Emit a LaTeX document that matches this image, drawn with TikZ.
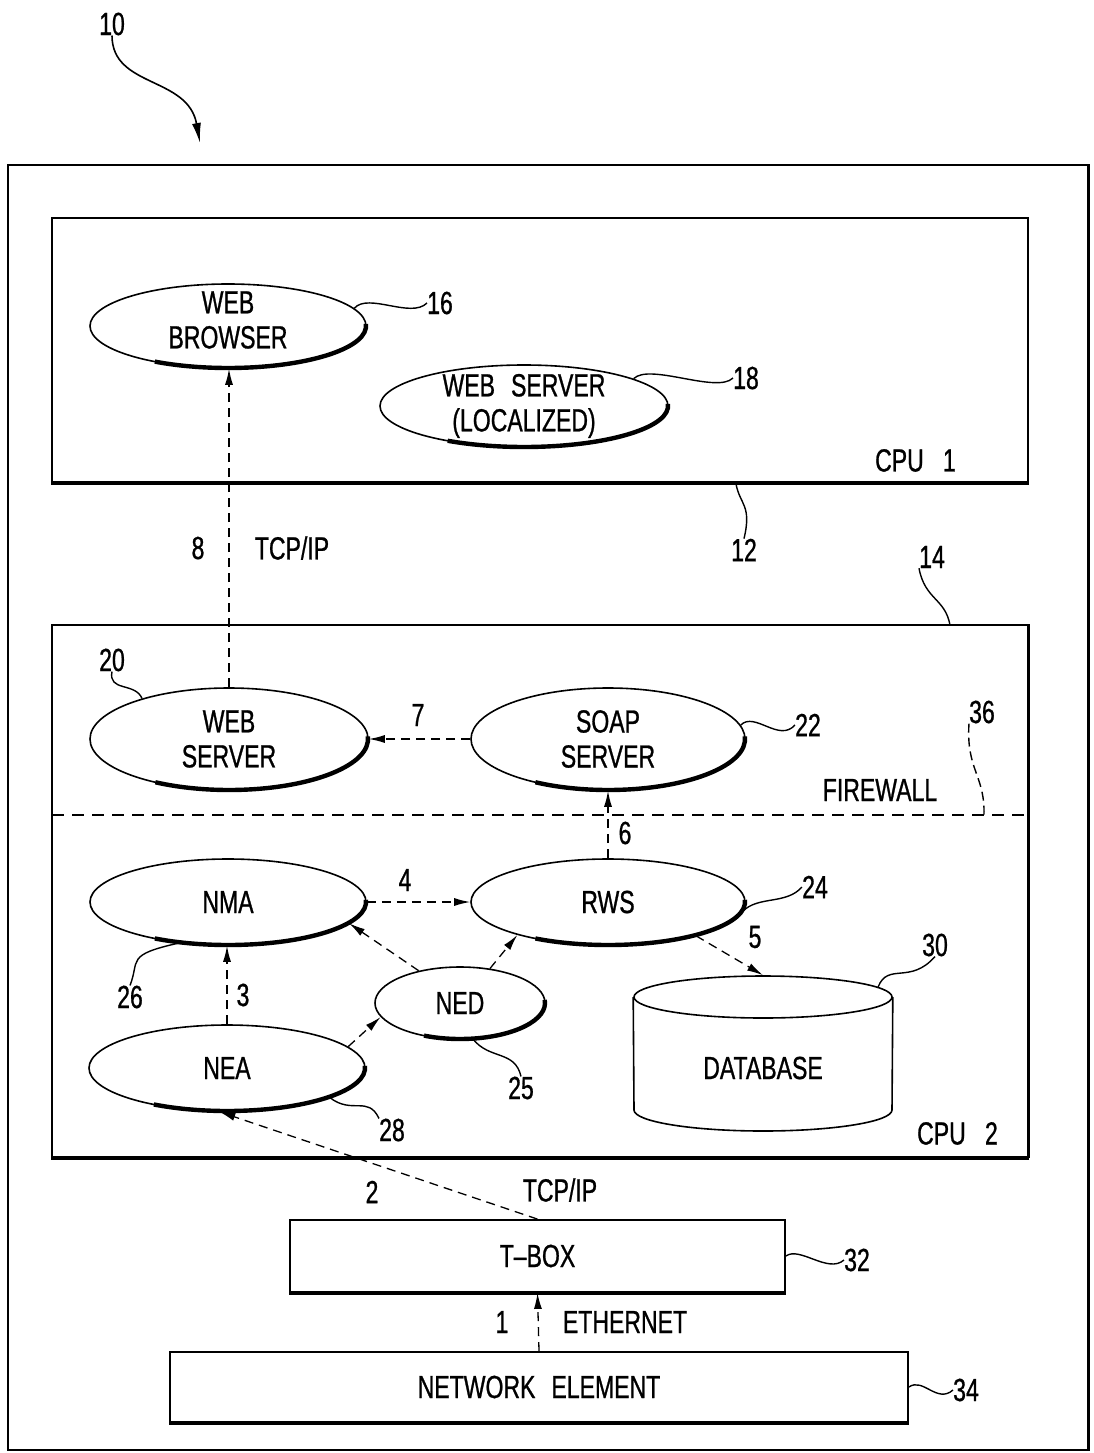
\documentclass[tikz,border=0pt]{standalone}
\usepackage{fontspec}
\setmainfont[FakeStretch=0.72,FakeBold=0.8]{Liberation Sans}
\usetikzlibrary{arrows.meta,shapes.geometric}
\begin{document}
\begin{tikzpicture}[x=1pt,y=-1pt,
  oval/.style={ellipse, draw, line width=1.6pt, inner sep=0pt},
  heavy/.style={line width=4.4pt},
  box/.style={draw, line width=1.8pt, inner sep=0pt},
  lbl/.style={font=\fontsize{32}{35}\selectfont, align=center, inner sep=0pt},
  flow/.style={line width=1.3pt, dash pattern=on 9pt off 6pt, -{Latex[length=16pt,width=8pt]}},
  lead/.style={line width=1.4pt},
  txt/.style={lbl}]
\useasboundingbox (0,0) rectangle (1094,1453);

% outer system box
\node[box, minimum width=1080, minimum height=1285] (sys) at (548,807.5) {};
\draw[line width=3pt] (sys.north east) -- (sys.south east);
\node[txt] (l10) at (112,24) {10};
\coordinate (sysin) at (200,143);
\draw[line width=1.6pt, -{Latex[length=20pt,width=9pt]}] (l10.south) .. controls (112,88) and (188,76) .. (sysin);

% CPU 1
\node[box, minimum width=976, minimum height=264] (cpu1) at (540,350) {};
\draw[line width=4pt] (cpu1.south west) -- (cpu1.south east);
\node[txt, anchor=south east] (cpu1l) at (956,472) {CPU\hspace{0.6em}1};
\node[txt] (l12) at (744,550) {12};
\coordinate (c12) at (736,484);
\draw[lead] (c12) .. controls (740,505) and (752,505) .. (l12.north);

\node[oval, minimum width=276, minimum height=84, label={[txt, yshift=6pt]center:{WEB\\BROWSER}}] (wb) at (228,326) {};
\draw[heavy] (wb.center) ++(-3:138 and 42) arc[start angle=-3, end angle=122, x radius=138, y radius=42];
\node[txt] (l16) at (440,303) {16};
\draw[lead] (wb.8) .. controls +(14,-16) and +(-16,16) .. (l16.west);

\node[oval, minimum width=288, minimum height=82, label={[txt]center:{WEB\hspace{0.5em}SERVER\\(LOCALIZED)}}] (wsl) at (524,406) {};
\draw[heavy] (wsl.center) ++(-3:144 and 41) arc[start angle=-3, end angle=122, x radius=144, y radius=41];
\node[txt] (l18) at (746,378) {18};
\draw[lead] (wsl.14) .. controls +(16,-16) and +(-16,16) .. (l18.west);

% CPU 2
\node[box, minimum width=976, minimum height=532] (cpu2) at (540,891) {};
\draw[line width=4pt] (cpu2.south west) -- (cpu2.south east);
\draw[line width=3pt] (cpu2.north east) -- (cpu2.south east);
\node[txt, anchor=south east] (cpu2l) at (998,1145) {CPU\hspace{0.6em}2};
\node[txt] (l14) at (932,557) {14};
\coordinate (c14) at (950,625);
\draw[lead] (l14.south west) .. controls (925,600) and (945,598) .. (c14);

% firewall
\coordinate (fwL) at (52,815);
\coordinate (fwR) at (1028,815);
\draw[line width=1.3pt, dash pattern=on 12pt off 8pt] (fwL) -- (fwR);
\node[txt] (fw) at (880,790) {FIREWALL};
\node[txt] (l36) at (982,712) {36};
\coordinate (c36) at (984,815);
\draw[lead, dash pattern=on 9pt off 5pt] (l36.south west) .. controls (966,770) and (985,775) .. (c36);

\node[oval, minimum width=278, minimum height=102, label={[txt]center:{WEB\\SERVER}}] (ws) at (229,739) {};
\draw[heavy] (ws.center) ++(-3:139 and 51) arc[start angle=-3, end angle=122, x radius=139, y radius=51];
\node[txt] (l20) at (112,660) {20};
\draw[lead] (l20.south) .. controls (108,692) and (135,682) .. (ws.155);

\node[oval, minimum width=274, minimum height=102, label={[txt]center:{SOAP\\SERVER}}] (soap) at (608,739) {};
\draw[heavy] (soap.center) ++(-3:137 and 51) arc[start angle=-3, end angle=122, x radius=137, y radius=51];
\node[txt] (l22) at (808,725) {22};
\draw[lead] (soap.6) .. controls +(14,-14) and +(-16,18) .. (l22.west);

\node[oval, minimum width=276, minimum height=86, label={[txt]center:{NMA}}] (nma) at (228,902) {};
\draw[heavy] (nma.center) ++(-3:138 and 43) arc[start angle=-3, end angle=122, x radius=138, y radius=43];
\node[txt] (l26) at (130,997) {26};
\draw[lead] (nma.-140) .. controls (125,955) and (140,960) .. (l26.north);

\node[oval, minimum width=274, minimum height=86, label={[txt]center:{RWS}}] (rws) at (608,902) {};
\draw[heavy] (rws.center) ++(-3:137 and 43) arc[start angle=-3, end angle=122, x radius=137, y radius=43];
\node[txt] (l24) at (815,887) {24};
\draw[lead] (rws.-4) .. controls +(16,-16) and +(-16,18) .. (l24.west);

\node[oval, minimum width=170, minimum height=72, label={[txt]center:{NED}}] (ned) at (460,1003) {};
\draw[heavy] (ned.center) ++(-5:85 and 36) arc[start angle=-5, end angle=115, x radius=85, y radius=36];
\node[txt] (l25) at (521,1088) {25};
\draw[lead] (ned.-70) .. controls (490,1060) and (515,1050) .. (l25.north);

\node[oval, minimum width=276, minimum height=86, label={[txt]center:{NEA}}] (nea) at (227,1068) {};
\draw[heavy] (nea.center) ++(-3:138 and 43) arc[start angle=-3, end angle=122, x radius=138, y radius=43];
\node[txt] (l28) at (392,1130) {28};
\draw[lead] (nea.-16) .. controls (352,1115) and (368,1095) .. (l28.north west);

% database cylinder
\node[ellipse, draw, line width=1.6pt, inner sep=0pt, minimum width=258, minimum height=42] (dbcap) at (763,997) {};
\draw[line width=1.6pt] (dbcap.west) -- (634,1110) arc[start angle=180, end angle=0, x radius=129, y radius=21] -- (dbcap.east);
\node[txt] (db) at (763,1068) {DATABASE};
\node[txt] (l30) at (935,945) {30};
\draw[lead] (dbcap.5) .. controls (888,962) and (910,985) .. (l30.south);

% flows
\draw[flow] (ws.north) -- (ws.north |- wb.south);
\node[txt] (f8) at (198,548) {8};
\node[txt] (t8) at (292,548) {TCP/IP};
\draw[flow] (soap.west) -- (ws.east);
\node[txt] (f7) at (418,715) {7};
\draw[flow] (rws.north) -- (soap.south);
\node[txt] (f6) at (625,833) {6};
\draw[flow] (nma.east) -- (rws.west);
\node[txt] (f4) at (405,880) {4};
\draw[flow] (rws.-21) -- (dbcap.north);
\node[txt] (f5) at (755,937) {5};
\draw[flow] (nea.north) -- (nea.north |- nma.south);
\node[txt] (f3) at (243,995) {3};
\draw[flow] (ned.142) -- (nma.-10);
\draw[flow] (ned.49) -- (rws.-160);
\draw[flow] (nea.10) -- (ned.190);

% T-BOX and network element
\node[box, minimum width=495, minimum height=72, label={[txt]center:{T--BOX}}] (tbox) at (537.5,1256) {};
\draw[line width=3.5pt] (tbox.south west) -- (tbox.south east);
\node[txt] (l32) at (857,1260) {32};
\draw[lead] (tbox.east) .. controls +(14,-10) and +(-16,14) .. (l32.west);

\node[box, minimum width=738, minimum height=70, label={[txt]center:{NETWORK\hspace{0.5em}ELEMENT}}] (ne) at (539,1387) {};
\draw[line width=3.5pt] (ne.south west) -- (ne.south east);
\node[txt] (l34) at (966,1390) {34};
\draw[lead] (ne.east) .. controls +(14,-10) and +(-16,14) .. (l34.west);

\draw[flow] (tbox.north) -- (nea.-100);
\node[txt] (f2) at (372,1192) {2};
\node[txt] (t2) at (560,1190) {TCP/IP};
\draw[flow] (ne.north) -- (tbox.south);
\node[txt] (f1) at (502,1322) {1};
\node[txt] (t1) at (625,1322) {ETHERNET};
\end{tikzpicture}
\end{document}
